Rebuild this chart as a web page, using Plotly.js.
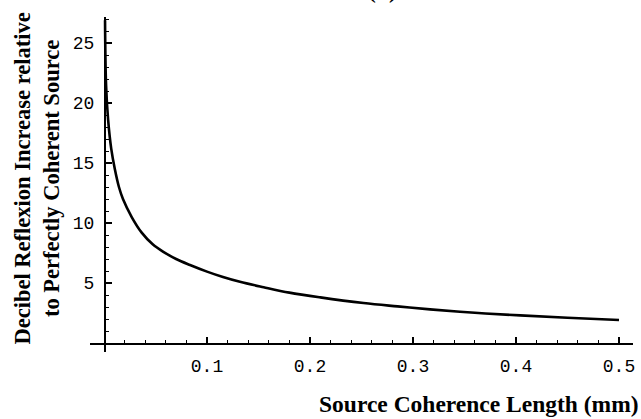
<!DOCTYPE html>
<html>
<head>
<meta charset="utf-8">
<script src="https://cdn.plot.ly/plotly-3.0.1.min.js"></script>
<style>html,body{margin:0;padding:0;background:#fff;}#chart{width:641px;height:419px;}</style>
</head>
<body>
<div id="chart"></div>
<script>
// Source coherence length (mm)
var coherenceLength = [0.001, 0.002, 0.004, 0.007, 0.0105, 0.0145, 0.0184, 0.0269, 0.0366, 0.047, 0.0576, 0.07, 0.0835, 0.1, 0.1155, 0.132, 0.155, 0.18, 0.21, 0.252, 0.285, 0.3165, 0.36, 0.404, 0.45, 0.5];
// Decibel reflexion increase relative to perfectly coherent source
var dbIncrease = [26.9, 21.5, 18.6, 16.2, 14.5, 13.0, 12.0, 10.5, 9.2, 8.25, 7.6, 7.0, 6.5, 5.95, 5.5, 5.1, 4.65, 4.2, 3.8, 3.33, 3.05, 2.8, 2.52, 2.3, 2.1, 1.92];
var xTicks = [0.1, 0.2, 0.3, 0.4, 0.5];
var xTickLabels = ['0.1', '0.2', '0.3', '0.4', '0.5'];
var yTicks = [5, 10, 15, 20, 25];
var yTickLabels = ['5', '10', '15', '20', '25'];
var panelLabel = '(b)';
var xTitle = 'Source Coherence Length (mm)';
var yTitle = 'Decibel Reflexion Increase relative<br>to Perfectly Coherent Source';

var xRange = [-0.0136, 0.5136];
var yRange = [-0.75, 27.17];

var trace = {
  x: coherenceLength, y: dbIncrease, type: 'scatter', mode: 'lines',
  line: {color: '#000', width: 2.6, shape: 'spline', smoothing: 1},
  hoverinfo: 'skip'
};

var tickFont = {family: '"Liberation Mono", "DejaVu Sans Mono", monospace', size: 18, color: '#000'};
var titleFont = {family: '"Liberation Serif", "Times New Roman", serif', size: 23.5, color: '#000', weight: 'bold'};

var layout = {
  width: 641, height: 419,
  margin: {l: 90, r: 8, t: 17, b: 67, pad: 0},
  paper_bgcolor: '#fff', plot_bgcolor: '#fff',
  showlegend: false,
  xaxis: {
    range: xRange, anchor: 'free', position: (0 - yRange[0]) / (yRange[1] - yRange[0]),
    showgrid: false, zeroline: false, showline: true, linecolor: '#000', linewidth: 1.6,
    tickmode: 'array', tickvals: xTicks, ticktext: xTickLabels,
    ticks: 'inside', ticklen: 6, tickwidth: 1.2, tickcolor: '#000',
    ticklabelstandoff: 6,
    minor: {dtick: 0.02, tick0: 0, ticks: 'inside', ticklen: 3, tickwidth: 1, tickcolor: '#000', showgrid: false},
    tickfont: tickFont
  },
  yaxis: {
    range: yRange, anchor: 'free', position: (0 - xRange[0]) / (xRange[1] - xRange[0]),
    showgrid: false, zeroline: false, showline: true, linecolor: '#000', linewidth: 1.6,
    tickmode: 'array', tickvals: yTicks, ticktext: yTickLabels,
    ticks: 'inside', ticklen: 6, tickwidth: 1.2, tickcolor: '#000',
    ticklabelstandoff: 6,
    minor: {dtick: 1, tick0: 0, ticks: 'inside', ticklen: 3, tickwidth: 1, tickcolor: '#000', showgrid: false},
    tickfont: tickFont
  },
  annotations: [
    {text: xTitle, xref: 'paper', yref: 'paper', x: 1, y: 0, xanchor: 'right', yanchor: 'top',
     xshift: 8, yshift: -37, showarrow: false, font: titleFont},
    {text: yTitle, xref: 'paper', yref: 'paper', x: 0, y: 0.5, xanchor: 'right', yanchor: 'middle',
     xshift: -90 + 65, yshift: 6, textangle: -90, showarrow: false, font: Object.assign({}, titleFont, {size: 22.5})},
    {text: panelLabel, xref: 'paper', yref: 'paper', x: (382 - 90) / 543, y: 1, xanchor: 'center', yanchor: 'bottom',
     yshift: 12, showarrow: false, font: titleFont}
  ]
};

Plotly.newPlot('chart', [trace], layout, {displayModeBar: false, staticPlot: true});
</script>
</body>
</html>
